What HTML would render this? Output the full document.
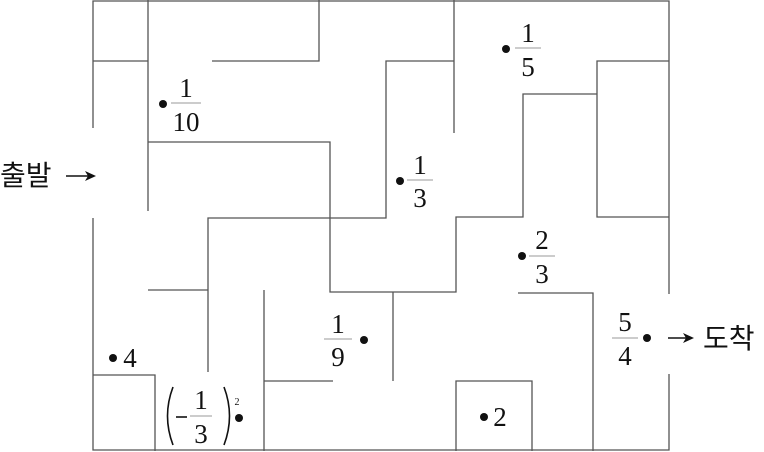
<!DOCTYPE html>
<html><head><meta charset="utf-8"><style>body{margin:0;background:#fff}svg{display:block}</style></head><body>
<svg width="764" height="452" xmlns="http://www.w3.org/2000/svg">
<g stroke="#555" stroke-width="1.3" fill="none">
<path d="M93,128V1H669V294M669,374V450H93V218"/>
<path d="M148,0V211M93,61H148M212,61H319V0M148,142H330V292H456V217H523V94H597V61H669M597,94V217H669"/>
<path d="M208,372V218H386V61H454M454,0V133"/>
<path d="M148,290H208M264,290V451M264,381H333M393,292V381"/>
<path d="M93,375H155V451M518,293H593V451M456,451V381H532V451"/>
</g>
<g font-family="Liberation Serif, serif" font-size="27" fill="#111" text-anchor="middle">
<g stroke="#999" stroke-width="1"><path d="M171,103H201M515,48H541M407,180H433M529,256H555M612,338H638M324,339H352M190,416H212"/></g>
<circle cx="163" cy="104" r="4"/><text x="186" y="97">1</text><text x="186" y="131">10</text>
<circle cx="506" cy="49" r="4"/><text x="528" y="42">1</text><text x="528" y="76">5</text>
<circle cx="400" cy="181" r="4"/><text x="420" y="174">1</text><text x="420" y="207">3</text>
<circle cx="522" cy="256" r="4"/><text x="542" y="249">2</text><text x="542" y="283">3</text>
<circle cx="647" cy="338" r="4"/><text x="625" y="331">5</text><text x="625" y="365">4</text>
<circle cx="364" cy="340" r="4"/><text x="338" y="333">1</text><text x="338" y="366">9</text>
<circle cx="113" cy="358" r="4"/><text x="130" y="367">4</text>
<circle cx="484" cy="417" r="4"/><text x="500" y="426">2</text>
<circle cx="239" cy="418" r="4"/>
<text x="201" y="409">1</text><text x="201" y="443">3</text>
<text x="237" y="405" font-size="10">2</text>
</g>
<g stroke="#111" stroke-width="1.6" fill="none">
<path d="M173,387Q162,416 173,445"/>
<path d="M224,387Q235,416 224,445"/>
<path d="M176,417H187"/>
</g>
<g font-family="Liberation Sans, 'Noto Sans CJK KR', sans-serif" font-size="28" fill="#111">
<text x="0" y="185">출발</text>
<text x="703" y="348">도착</text>
</g>
<g stroke="#111" stroke-width="1.5"><path d="M66,176H90M668,338H688"/></g>
<path d="M96,176l-11,-5 3,5 -3,5z M694,338l-11,-5 3,5 -3,5z" fill="#111"/>
</svg>
</body></html>
